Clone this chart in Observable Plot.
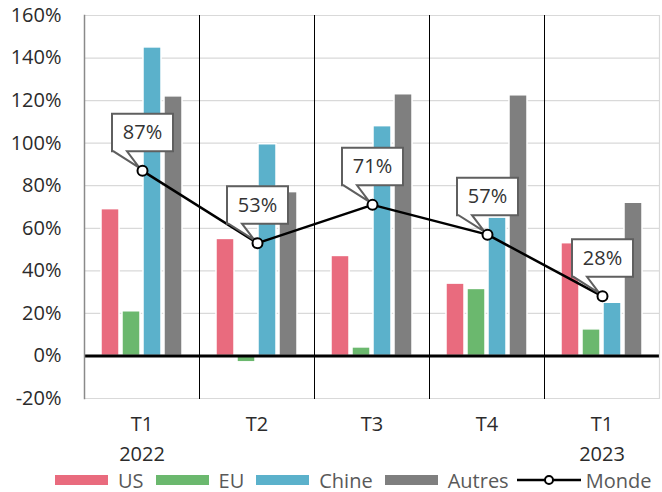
<!DOCTYPE html>
<html>
<head>
<meta charset="utf-8">
<script src="https://cdn.jsdelivr.net/npm/d3@7"></script>
<script src="https://cdn.jsdelivr.net/npm/@observablehq/plot@0.6"></script>
<style>
  html, body { margin: 0; padding: 0; background: white; }
  #wrap { position: relative; width: 662px; height: 492px; font-family: "Open Sans", sans-serif; }
  #wrap svg.overlay { position: absolute; left: 0; top: 0; }
  #legend { position: absolute; left: 55px; top: 466px; height: 28px; display: flex; align-items: center; font-size: 20px; color: #595959; white-space: nowrap; }
  .item { display: flex; align-items: center; margin-right: 12px; }
  .sw { width: 53px; height: 10px; margin-right: 10px; }
</style>
</head>
<body>
<div id="wrap"></div>
<script>
// ---- data ----
const categories = ["T1 2022", "T2 2022", "T3 2022", "T4 2022", "T1 2023"];
const quarterLabels = ["T1", "T2", "T3", "T4", "T1"];
const yearLabels = ["2022", "", "", "", "2023"];
const series = ["US", "EU", "Chine", "Autres"];
const usValues = [69, 55, 47, 34, 53];
const euValues = [21, -3, 4, 31.5, 12.5];
const chineValues = [145, 99.5, 108, 65, 25];
const autresValues = [122, 77, 123, 122.5, 72];
const mondeValues = [87, 53, 71, 57, 28];
const yTicks = [-20, 0, 20, 40, 60, 80, 100, 120, 140, 160];
const colors = ["#E96B7E", "#6BB86E", "#5BB1CB", "#7F7F7F"];

// ---- tables built from the arrays ----
const seriesValues = [usValues, euValues, chineValues, autresValues];
const rows = [];
categories.forEach((c, i) => series.forEach((s, j) => rows.push({cat: c, series: s, value: seriesValues[j][i]})));
const monde = categories.map((c, i) => ({cat: c, value: mondeValues[i]}));

const W = 662, H = 468, mL = 84, mR = 3, mT = 15, mB = 70;
const font = "'Open Sans', sans-serif";

const main = Plot.plot({
  width: W, height: H,
  marginLeft: mL, marginRight: mR, marginTop: mT, marginBottom: mB,
  style: {fontFamily: font, fontSize: "20px", background: "white"},
  fx: {domain: categories, padding: 0, label: null},
  x: {domain: series, paddingInner: 0.15, paddingOuter: 0.75, axis: null},
  y: {domain: [-20, 160], label: null},
  color: {domain: series, range: colors},
  marks: [
    Plot.gridY({ticks: yTicks, stroke: "#d9d9d9", strokeOpacity: 1, strokeWidth: 1.2}),
    Plot.barY(rows, {fx: "cat", x: "series", y: "value", fill: "series", stroke: "white", strokeWidth: 1.5}),
    Plot.frame({anchor: "left", stroke: "black", strokeWidth: 1}),
    Plot.ruleY([0], {stroke: "black", strokeWidth: 3}),
    Plot.axisY({ticks: yTicks, tickSize: 0, tickPadding: 23, tickFormat: d => d + "%", fontSize: 20, fill: "#2b2b2b", label: null}),
    Plot.axisFx({anchor: "bottom", tickSize: 0, tickPadding: 18, tickFormat: d => quarterLabels[categories.indexOf(d)], fontSize: 20, fill: "#2b2b2b", label: null}),
    Plot.axisFx({anchor: "bottom", tickSize: 0, tickPadding: 48, tickFormat: d => yearLabels[categories.indexOf(d)], fontSize: 20, fill: "#2b2b2b", label: null})
  ]
});

// callout shape (box with pointer toward the point)
const callout = {
  draw(ctx) {
    const L = -30.5, R = 30.5, T = -57, B = -19.5;
    ctx.moveTo(L, T); ctx.lineTo(R, T); ctx.lineTo(R, B);
    ctx.lineTo(L + 15, B); ctx.lineTo(-3, -3); ctx.lineTo(L + 1.5, B);
    ctx.lineTo(L, B); ctx.closePath();
  }
};

const overlay = Plot.plot({
  width: W, height: H,
  marginLeft: mL, marginRight: mR, marginTop: mT, marginBottom: mB,
  style: {fontFamily: font, fontSize: "20px", background: "transparent"},
  x: {type: "point", domain: categories, padding: 0.5, axis: null},
  y: {domain: [-20, 160], axis: null},
  marks: [
    Plot.frame({anchor: "left", stroke: "#8a8a8a", strokeWidth: 1.5}),
    Plot.frame({anchor: "right", stroke: "#d9d9d9", strokeWidth: 1.2}),
    Plot.line(monde, {x: "cat", y: "value", stroke: "black", strokeWidth: 2.5}),
    Plot.dot(monde, {x: "cat", y: "value", r: 10, symbol: callout, fill: "white", stroke: "#5f5f5f", strokeWidth: 2}),
    Plot.text(monde, {x: "cat", y: "value", text: d => d.value + "%", dy: -38, fontSize: 20, fill: "#333"}),
    Plot.dot(monde, {x: "cat", y: "value", r: 5, fill: "white", stroke: "black", strokeWidth: 2})
  ]
});
overlay.classList.add("overlay");

const wrap = document.getElementById("wrap");
wrap.appendChild(main);
wrap.appendChild(overlay);

// legend
const legend = document.createElement("div");
legend.id = "legend";
series.forEach((s, i) => {
  const it = document.createElement("div");
  it.className = "item";
  it.innerHTML = `<div class="sw" style="background:${colors[i]}"></div><span>${s}</span>`;
  legend.appendChild(it);
});
const mi = document.createElement("div");
mi.className = "item";
mi.style.marginLeft = "-4px";
mi.innerHTML = `<svg width="64" height="14" style="margin-right:5px"><line x1="0" y1="7" x2="64" y2="7" stroke="black" stroke-width="2.5"/><circle cx="32" cy="7" r="4" fill="white" stroke="black" stroke-width="2"/></svg><span>Monde</span>`;
legend.appendChild(mi);
wrap.appendChild(legend);
</script>
</body>
</html>
